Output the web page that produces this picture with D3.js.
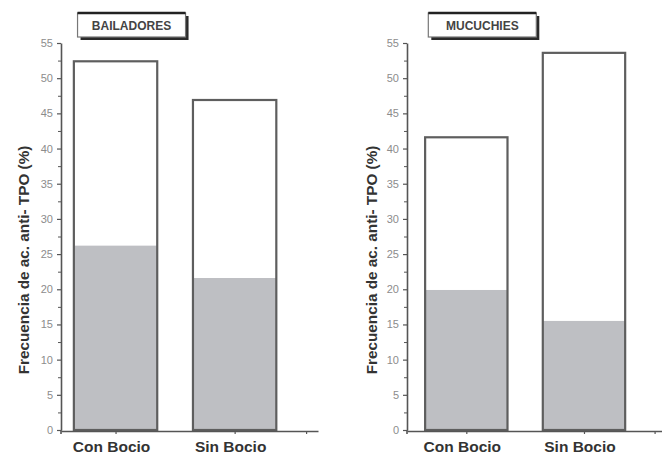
<!DOCTYPE html>
<html><head><meta charset="utf-8">
<script src="https://cdn.jsdelivr.net/npm/d3@7/dist/d3.min.js"></script>
<style>
html,body{margin:0;padding:0;background:#fff;}
svg{display:block;font-family:"Liberation Sans",Arial,sans-serif;}
</style></head>
<body>
<script>
// ---- data ----
const categories = ["Con Bocio", "Sin Bocio"];
const panelTitles = ["BAILADORES", "MUCUCHIES"];
const totalBailadores = [52.4, 46.9];
const grayBailadores  = [26.2, 21.6];
const totalMucuchies  = [41.6, 53.6];
const grayMucuchies   = [19.9, 15.5];
const yMajorTicks = [0, 5, 10, 15, 20, 25, 30, 35, 40, 45, 50, 55];
const yMinorTicks = [2.5, 7.5, 12.5, 17.5, 22.5, 27.5, 32.5, 37.5, 42.5, 47.5, 52.5];
const xTickValues = [1, 2, 2.6];
const yLabel = "Frecuencia de ac. anti- TPO (%)";

const W = 662, H = 454;
const svg = d3.select("body").append("svg").attr("width", W).attr("height", H);

const panels = [
  {title: panelTitles[0], total: totalBailadores, gray: grayBailadores,
   xr: [61, 318], xd: [0.542, 2.7], labelX: 29},
  {title: panelTitles[1], total: totalMucuchies, gray: grayMucuchies,
   xr: [407, 664], xd: [0.496, 2.68], labelX: 377}
];

const y = d3.scaleLinear().domain([0, 55]).range([430, 43]);
const barW = 0.70;
const axisCol = "#555", tickTextCol = "#8c8c8c", textCol = "#333";

panels.forEach(p => {
  const x = d3.scaleLinear().domain(p.xd).range(p.xr);
  const g = svg.append("g");
  const bw = x(1 + barW) - x(1);

  categories.forEach((c, i) => {
    const cx = x(i + 1);
    g.append("rect").attr("x", cx - bw/2).attr("y", y(p.total[i]))
      .attr("width", bw).attr("height", y(0) - y(p.total[i])).attr("fill", "#fff");
    g.append("rect").attr("x", cx - bw/2).attr("y", y(p.gray[i]))
      .attr("width", bw).attr("height", y(0) - y(p.gray[i])).attr("fill", "#bebfc3");
    g.append("rect").attr("x", cx - bw/2).attr("y", y(p.total[i]))
      .attr("width", bw).attr("height", y(0) - y(p.total[i]))
      .attr("fill", "none").attr("stroke", "#5e5e5e").attr("stroke-width", 2.2);
  });

  const ya = g.append("g").attr("transform", `translate(${p.xr[0]},0)`)
    .call(d3.axisLeft(y).tickValues(yMajorTicks).tickSize(4).tickSizeOuter(0).tickPadding(4));
  ya.select(".domain").attr("stroke", axisCol).attr("stroke-width", 1.6);
  ya.selectAll(".tick line").attr("stroke", axisCol).attr("stroke-width", 1.2);
  ya.selectAll(".tick text").attr("fill", tickTextCol).attr("font-size", 11)
    .attr("font-family", "Liberation Sans, Arial, sans-serif");
  const ym = g.append("g").attr("transform", `translate(${p.xr[0]},0)`)
    .call(d3.axisLeft(y).tickValues(yMinorTicks).tickSize(3).tickSizeOuter(0).tickFormat(""));
  ym.select(".domain").remove();
  ym.selectAll(".tick line").attr("stroke", axisCol).attr("stroke-width", 1);
  g.append("line").attr("x1", p.xr[0]).attr("x2", p.xr[0]).attr("y1", y(0)).attr("y2", y(0) + 4)
    .attr("stroke", axisCol).attr("stroke-width", 1.6);

  const xa = g.append("g").attr("transform", `translate(0,${y(0) + 1})`)
    .call(d3.axisBottom(x).tickValues(xTickValues).tickSize(3).tickSizeOuter(0).tickFormat(""));
  xa.select(".domain").attr("stroke", axisCol).attr("stroke-width", 1.6);
  xa.selectAll(".tick line").attr("stroke", axisCol).attr("stroke-width", 1.2);

  categories.forEach((c, i) => {
    g.append("text").attr("x", x(i + 1) - 4).attr("y", 452)
      .attr("text-anchor", "middle").attr("font-weight", "bold").attr("font-size", 15.5)
      .attr("fill", textCol).text(c);
  });

  g.append("text").attr("transform", `translate(${p.labelX},260) rotate(-90)`)
    .attr("text-anchor", "middle").attr("font-weight", "bold").attr("font-size", 15.3)
    .attr("fill", textCol).text(yLabel);

  const bx = x(1) - 38, by = 13, bwid = 108, bh = 24;
  g.append("rect").attr("x", bx + 3).attr("y", by + 3).attr("width", bwid).attr("height", bh)
    .attr("fill", "#2a2a2a");
  g.append("rect").attr("x", bx).attr("y", by).attr("width", bwid).attr("height", bh)
    .attr("fill", "#fff").attr("stroke", "#777").attr("stroke-width", 1.2);
  g.append("line").attr("x1", bx).attr("x2", bx + bwid).attr("y1", by).attr("y2", by)
    .attr("stroke", "#222").attr("stroke-width", 2.5);
  g.append("text").attr("x", bx + bwid/2).attr("y", by + 17)
    .attr("text-anchor", "middle").attr("font-weight", "bold").attr("font-size", 12)
    .attr("fill", "#444").text(p.title);
});
</script>
</body></html>
